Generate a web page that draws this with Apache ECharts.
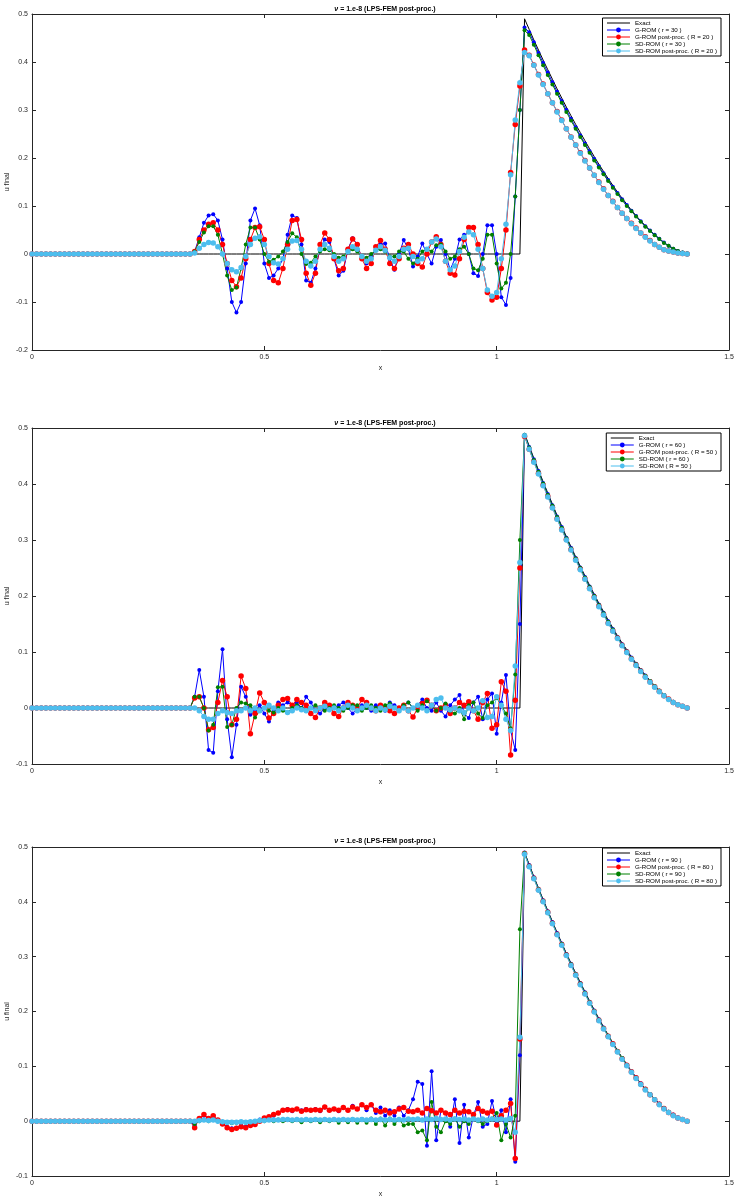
<!DOCTYPE html>
<html>
<head>
<meta charset="utf-8">
<script src="https://cdn.jsdelivr.net/npm/echarts@6/dist/echarts.min.js"></script>
<style>
  html, body { margin: 0; padding: 0; background: #fff; }
  #main { width: 737px; height: 1204px; }
</style>
</head>
<body>
<div id="main"></div>
<script>
// sample points along x (step 0.01)
const X = [
  0.00,0.01,0.02,0.03,0.04,0.05,0.06,0.07,0.08,0.09,
  0.10,0.11,0.12,0.13,0.14,0.15,0.16,0.17,0.18,0.19,
  0.20,0.21,0.22,0.23,0.24,0.25,0.26,0.27,0.28,0.29,
  0.30,0.31,0.32,0.33,0.34,0.35,0.36,0.37,0.38,0.39,
  0.40,0.41,0.42,0.43,0.44,0.45,0.46,0.47,0.48,0.49,
  0.50,0.51,0.52,0.53,0.54,0.55,0.56,0.57,0.58,0.59,
  0.60,0.61,0.62,0.63,0.64,0.65,0.66,0.67,0.68,0.69,
  0.70,0.71,0.72,0.73,0.74,0.75,0.76,0.77,0.78,0.79,
  0.80,0.81,0.82,0.83,0.84,0.85,0.86,0.87,0.88,0.89,
  0.90,0.91,0.92,0.93,0.94,0.95,0.96,0.97,0.98,0.99,
  1.00,1.01,1.02,1.03,1.04,1.05,1.06,1.07,1.08,1.09,
  1.10,1.11,1.12,1.13,1.14,1.15,1.16,1.17,1.18,1.19,
  1.20,1.21,1.22,1.23,1.24,1.25,1.26,1.27,1.28,1.29,
  1.30,1.31,1.32,1.33,1.34,1.35,1.36,1.37,1.38,1.39,
  1.40,1.41
];

// u = 0 for x = 0 .. 0.34 in every run
const LEAD = [0,0,0,0,0,0,0,0,0,0, 0,0,0,0,0,0,0,0,0,0, 0,0,0,0,0,0,0,0,0,0, 0,0,0,0,0];

const EXACT = [...LEAD,
  0,0,0,0,0,0,0,0,0,0, 0,0,0,0,0,0,0,0,0,0, 0,0,0,0,0,0,0,0,0,0, 0,0,0,0,0,0,0,0,0,0,
  0,0,0,0,0,0,0,0,0,0, 0,0,0,0,0,0,0,0,0,0, 0,0,0,0,0,0,0,0,0,0, 0,
  .490,.468,.446,.425,.404,.384,.364,.344,.325,.306,.288,.270,.253,.236,.219,.203,.187,.172,
  .157,.143,.129,.116,.104,.091,.080,.069,.059,.049,.040,.032,.024,.017,.012,.007,.003,.000];

// ---- top panel (r = 30, R = 20)
const TOP_GROM = [...LEAD,
  .005,.035,.065,.08,.083,.07,.03,-.03,-.10,-.122,
  -.10,-.02,.07,.095,.06,-.02,-.05,-.045,-.03,-.01,
  .04,.08,.075,.02,-.055,-.06,-.03,.01,.03,.025,
  -.01,-.045,-.035,.01,.033,.02,-.01,-.02,-.005,.01,
  .02,.022,-.01,-.033,0,.029,.01,-.026,-.005,.022,
  0,-.02,.015,.029,0,-.033,-.01,.03,.04,0,
  -.04,-.046,0,.06,.06,0,-.09,-.106,-.05,.12,
  .30,
  .472,.462,.441,.419,.398,.378,.358,.338,.319,.300,.282,.264,.247,.230,.214,.198,.183,.168,
  .154,.140,.127,.114,.102,.090,.079,.068,.058,.049,.040,.032,.024,.017,.011,.006,.003,.001];
const TOP_GROM_PP = [...LEAD,
  .005,.03,.05,.062,.065,.05,.02,-.02,-.055,-.068,
  -.05,-.01,.03,.055,.057,.03,-.02,-.055,-.06,-.03,
  .02,.07,.072,.03,-.04,-.065,-.04,.02,.044,.03,
  -.01,-.035,-.03,.01,.031,.02,-.01,-.03,-.02,.015,
  .028,.01,-.02,-.03,-.01,.012,.02,0,-.02,-.027,
  0,.025,.036,.02,-.015,-.04,-.044,-.01,.03,.055,
  .055,.02,-.03,-.08,-.096,-.09,-.03,.05,.17,.27,
  .35,
  .425,.414,.394,.374,.354,.334,.315,.297,.279,.261,.244,.227,.211,.195,.179,.164,.150,.136,
  .122,.110,.097,.085,.074,.064,.054,.044,.036,.028,.020,.014,.009,.006,.004,.002,.001,.000];
const TOP_SDROM = [...LEAD,
  .005,.025,.045,.058,.058,.04,0,-.045,-.075,-.07,
  -.03,.02,.055,.055,.03,0,-.016,-.012,-.005,.005,
  .025,.043,.035,0,-.021,-.018,-.005,.005,.01,.008,
  0,-.008,-.005,.005,.01,.005,-.005,-.008,0,.008,
  .01,.005,-.005,-.005,.005,.005,-.01,-.02,-.01,.005,
  .01,.005,.018,.02,.005,-.01,-.005,.01,.015,0,
  -.03,-.034,-.01,.04,.04,-.02,-.072,-.06,0,.12,
  .30,
  .466,.456,.436,.414,.393,.373,.353,.334,.315,.296,.278,.261,.244,.227,.211,.195,.180,.166,
  .152,.138,.125,.112,.100,.089,.078,.067,.057,.048,.039,.031,.023,.017,.011,.006,.003,.001];
const TOP_SDROM_PP = [...LEAD,
  .002,.012,.02,.024,.023,.015,0,-.02,-.033,-.037,
  -.028,-.005,.02,.033,.036,.02,-.005,-.018,-.021,-.01,
  .01,.027,.028,.01,-.015,-.025,-.015,.01,.02,.012,
  -.005,-.015,-.01,.005,.015,.01,-.005,-.015,-.01,.008,
  .015,.008,-.008,-.015,-.005,.01,.012,-.005,-.015,-.01,
  .01,.025,.031,.015,-.015,-.033,-.025,.005,.035,.046,
  .04,.01,-.03,-.075,-.088,-.08,-.01,.062,.165,.279,
  .357,
  .420,.413,.393,.373,.353,.334,.315,.296,.278,.261,.243,.227,.210,.194,.179,.164,.149,.135,
  .122,.109,.097,.085,.074,.063,.053,.044,.035,.027,.020,.014,.009,.006,.004,.002,.001,.000];

// ---- middle panel (r = 60, R = 50)
const MID_GROM = [...LEAD,
  .02,.068,.02,-.075,-.08,.03,.105,-.02,-.088,-.03,
  .038,.02,-.012,-.005,.005,-.01,-.024,-.005,.01,.005,
  .01,.005,.01,0,.02,.01,-.005,-.01,0,.005,
  0,.005,.01,0,-.01,0,.005,0,-.005,.005,
  0,-.005,.01,.005,-.005,.005,.01,0,.005,.015,
  0,-.005,.01,-.005,-.015,.005,.015,.023,-.01,-.018,
  .01,.02,-.02,.015,.026,-.046,.01,.059,-.04,-.075,
  .15,
  .488,.466,.444,.423,.402,.382,.362,.342,.323,.304,.286,.268,.251,.234,.217,.201,.185,.170,
  .155,.141,.127,.114,.102,.090,.079,.068,.058,.048,.039,.031,.023,.016,.011,.006,.003,.000];
const MID_GROM_PP = [...LEAD,
  .018,.02,0,-.039,-.035,.01,.049,.02,-.03,-.02,
  .057,.035,-.046,-.01,.027,.01,-.018,-.01,.005,.015,
  .017,.005,.015,.01,.005,-.01,-.017,0,.01,.005,
  -.01,-.015,0,.01,.005,0,.015,.01,0,-.005,
  .005,0,-.005,-.01,0,.005,-.005,-.016,0,.008,
  .014,.005,-.005,0,.005,-.01,0,.01,.005,.011,
  -.005,-.02,.01,.026,-.036,-.03,.047,.03,-.084,.014,
  .25,
  .485,.462,.440,.419,.398,.378,.358,.338,.319,.301,.283,.265,.248,.231,.214,.198,.182,.167,
  .152,.138,.125,.112,.100,.088,.077,.066,.056,.047,.038,.030,.022,.016,.010,.006,.003,.000];
const MID_SDROM = [...LEAD,
  .02,.02,0,-.04,-.03,.037,.038,-.034,-.03,0,
  .01,.008,.005,-.017,-.005,0,-.005,-.008,0,-.005,
  -.008,0,.005,0,-.005,0,.005,0,-.005,0,
  .005,0,-.005,0,.005,.005,-.005,0,.005,0,
  -.005,.005,.008,0,-.005,.005,.01,0,-.005,.005,
  .012,.005,-.005,0,.008,-.005,-.01,0,-.02,.005,
  .01,-.01,-.018,.005,.01,.018,.005,-.01,-.036,.06,
  .30,
  .488,.465,.443,.422,.401,.381,.361,.341,.322,.303,.285,.267,.250,.233,.216,.200,.184,.169,
  .154,.140,.126,.113,.101,.089,.078,.067,.057,.048,.039,.031,.023,.016,.011,.006,.003,.000];
const MID_SDROM_R = [...LEAD,
  0,-.005,-.015,-.02,-.02,-.01,-.005,-.008,-.01,-.005,
  -.005,0,-.005,0,-.005,0,.005,0,-.005,0,
  -.008,-.005,0,-.003,-.005,0,-.005,0,.003,-.003,
  0,-.005,0,.005,0,-.005,0,.005,0,-.005,
  0,-.003,.003,0,-.005,0,-.005,0,.005,0,
  -.005,.005,.015,.018,0,-.003,0,-.005,-.008,0,
  -.005,0,.013,-.017,-.015,.02,.005,-.02,-.04,.075,
  .26,
  .486,.462,.439,.418,.397,.377,.357,.337,.318,.300,.282,.264,.247,.230,.213,.197,.181,.166,
  .151,.137,.124,.111,.099,.087,.076,.065,.055,.046,.037,.029,.022,.015,.010,.006,.003,.000];

// ---- bottom panel (r = 90, R = 80)
const BOT_GROM = [...LEAD,
  -.008,.005,.01,.005,.01,0,-.005,-.01,-.013,-.012,
  -.008,-.01,-.005,-.005,.003,.005,.008,.01,.015,.02,
  .022,.018,.022,.02,.022,.02,.022,.018,.025,.02,
  .022,.018,.025,.02,.028,.022,.03,.02,.03,.015,
  .025,.01,.02,.01,.025,.01,.02,.04,.072,.068,
  -.045,.091,-.035,.02,.015,-.01,.04,-.04,.03,-.03,
  .01,.035,-.01,-.005,.037,0,.02,-.02,.04,-.074,
  .12,
  .490,.467,.445,.424,.403,.383,.363,.343,.324,.305,.287,.269,.252,.235,.218,.202,.186,.171,
  .156,.142,.128,.115,.103,.091,.080,.069,.059,.049,.040,.032,.024,.017,.012,.007,.003,.000];
const BOT_GROM_PP = [...LEAD,
  -.012,.005,.012,.005,.01,.002,-.005,-.012,-.015,-.013,
  -.01,-.012,-.008,-.006,0,.006,.008,.012,.015,.02,
  .021,.02,.022,.018,.021,.02,.021,.02,.026,.02,
  .022,.02,.025,.02,.026,.022,.03,.025,.03,.02,
  .017,.02,.015,.017,.022,.025,.018,.017,.02,.015,
  .023,.019,.015,.02,.015,.012,.02,.015,.018,.017,
  .012,.023,.018,.015,.018,-.007,.01,.02,.032,-.068,
  .15,
  .488,.465,.443,.422,.401,.381,.361,.341,.322,.303,.285,.267,.250,.233,.216,.200,.184,.169,
  .155,.141,.127,.114,.102,.090,.079,.068,.058,.048,.039,.031,.023,.016,.011,.006,.003,.000];
const BOT_SDROM = [...LEAD,
  -.005,0,.002,0,.002,0,-.002,-.003,-.004,-.003,
  -.002,-.003,-.002,0,.002,0,.002,0,.003,0,
  .003,0,.002,-.002,.003,0,.002,-.002,.003,0,
  .002,-.003,.003,-.002,.004,-.003,.004,-.003,.005,-.005,
  .005,-.008,.005,-.005,.003,-.008,-.005,-.005,-.02,-.017,
  -.035,.035,-.01,-.02,0,-.005,.005,-.01,0,-.005,
  .005,0,-.005,0,.005,.015,-.035,-.005,-.03,.01,
  .35,
  .489,.466,.444,.423,.402,.382,.362,.342,.323,.304,.286,.268,.251,.234,.217,.201,.185,.170,
  .156,.141,.128,.115,.102,.090,.079,.068,.058,.049,.040,.031,.023,.017,.011,.006,.003,.000];
const BOT_SDROM_PP = [...LEAD,
  0,.001,.002,.001,.002,0,-.001,-.002,-.002,-.002,
  -.001,-.002,-.001,0,.001,.001,.002,.002,.002,.003,
  .003,.002,.003,.002,.003,.002,.003,.002,.003,.002,
  .003,.002,.003,.002,.003,.002,.003,.002,.003,.002,
  .003,.002,.003,.002,.003,.002,.004,.003,.004,.002,
  .004,.003,.005,.003,.004,.002,.004,.003,.004,.002,
  .004,.002,.004,.002,.004,.003,.004,.002,.005,-.02,
  .153,
  .487,.464,.442,.421,.400,.380,.360,.340,.321,.302,.284,.266,.249,.232,.215,.199,.183,.168,
  .154,.140,.126,.113,.101,.089,.078,.067,.057,.048,.039,.030,.022,.016,.010,.006,.003,.000];

const PANELS = [
  { names: ['Exact', 'G-ROM ( r = 30 )', 'G-ROM post-proc. ( R = 20 )', 'SD-ROM ( r = 30 )', 'SD-ROM post-proc. ( R = 20 )'],
    data: [EXACT, TOP_GROM, TOP_GROM_PP, TOP_SDROM, TOP_SDROM_PP], ymin: -0.2 },
  { names: ['Exact', 'G-ROM ( r = 60 )', 'G-ROM post-proc. ( R = 50 )', 'SD-ROM ( r = 60 )', 'SD-ROM ( R = 50 )'],
    data: [EXACT, MID_GROM, MID_GROM_PP, MID_SDROM, MID_SDROM_R], ymin: -0.1 },
  { names: ['Exact', 'G-ROM ( r = 90 )', 'G-ROM post-proc. ( R = 80 )', 'SD-ROM ( r = 90 )', 'SD-ROM post-proc. ( R = 80 )'],
    data: [EXACT, BOT_GROM, BOT_GROM_PP, BOT_SDROM, BOT_SDROM_PP], ymin: -0.1 }
];

const FONT = "'Liberation Sans', Arial, sans-serif";
const AX = '#262626';
const COLORS = ['#000000', '#0000ff', '#ff0000', '#008000', '#4dbeee'];
const SIZES = [0, 4, 5.5, 4, 5.5];

const gridPos = [
  { left: 32, right: 8, top: 14, height: 336, outerBoundsMode: 'none' },
  { left: 32, right: 8, top: 428, height: 336, outerBoundsMode: 'none' },
  { left: 32, right: 8, top: 847, height: 329, outerBoundsMode: 'none' }
];
const titleTop = [1, 415, 833];
const legendTop = [18, 433, 848];

const grids = [], xAxes = [], yAxes = [], titles = [], legends = [], series = [];

PANELS.forEach(function (p, g) {
  grids.push(gridPos[g]);
  titles.push({
    text: '{i|ν} = 1.e-8 (LPS-FEM post-proc.)',
    left: 380, top: titleTop[g], textAlign: 'center',
    textStyle: {
      fontFamily: FONT, fontSize: 7, fontWeight: 'bold', color: '#000',
      rich: { i: { fontFamily: FONT, fontSize: 7, fontWeight: 'bold', fontStyle: 'italic' } }
    }
  });
  const tick = { show: true, inside: true, length: 4, lineStyle: { color: AX } };
  const line = { show: true, onZero: false, lineStyle: { color: AX, width: 1 } };
  xAxes.push({
    gridIndex: g, type: 'value', min: 0, max: 1.5, interval: 0.5, position: 'bottom',
    axisLine: line, axisTick: tick, splitLine: { show: false },
    axisLabel: { fontFamily: FONT, fontSize: 7, color: AX, margin: 4 },
    name: 'x', nameLocation: 'middle', nameGap: 15,
    nameTextStyle: { fontFamily: FONT, fontSize: 7, color: AX }
  });
  xAxes.push({
    gridIndex: g, type: 'value', min: 0, max: 1.5, interval: 0.5, position: 'top',
    axisLine: line, axisTick: tick, splitLine: { show: false }, axisLabel: { show: false }
  });
  yAxes.push({
    gridIndex: g, type: 'value', min: p.ymin, max: 0.5, interval: 0.1, position: 'left',
    axisLine: line, axisTick: tick, splitLine: { show: false },
    axisLabel: { fontFamily: FONT, fontSize: 7, color: AX, margin: 4 },
    name: 'u final', nameLocation: 'middle', nameGap: 21, nameRotate: 90,
    nameMoveOverlap: false,
    nameTextStyle: { fontFamily: FONT, fontSize: 7, color: AX }
  });
  yAxes.push({
    gridIndex: g, type: 'value', min: p.ymin, max: 0.5, interval: 0.1, position: 'right',
    axisLine: line, axisTick: tick, splitLine: { show: false }, axisLabel: { show: false }
  });
  legends.push({
    // no marker on the Exact entry
    data: p.names.map(function (n, k) {
      return k === 0 ? { name: n, itemStyle: { color: 'rgba(0,0,0,0)', borderWidth: 0 } } : n;
    }),
    orient: 'vertical', right: 16, top: legendTop[g],
    itemWidth: 23, itemHeight: 6, itemGap: 1,
    padding: [2, 4, 2, 4], borderColor: '#000', borderWidth: 1, backgroundColor: '#fff',
    lineStyle: { width: 1 },
    textStyle: { fontFamily: FONT, fontSize: 6.2, color: '#000' },
    selectedMode: false
  });
  p.data.forEach(function (ys, k) {
    series.push({
      name: p.names[k], type: 'line',
      xAxisIndex: 2 * g, yAxisIndex: 2 * g,
      data: X.map(function (x, i) { return [x, ys[i]]; }),
      symbol: k === 0 ? 'none' : 'circle',
      symbolSize: SIZES[k], showAllSymbol: true,
      lineStyle: { color: COLORS[k], width: 1 },
      itemStyle: { color: COLORS[k] },
      silent: true
    });
  });
});

const chart = echarts.init(document.getElementById('main'), null, { renderer: 'canvas' });
chart.setOption({
  animation: false,
  backgroundColor: '#fff',
  title: titles,
  legend: legends,
  grid: grids,
  xAxis: xAxes,
  yAxis: yAxes,
  series: series
});
</script>
</body>
</html>
